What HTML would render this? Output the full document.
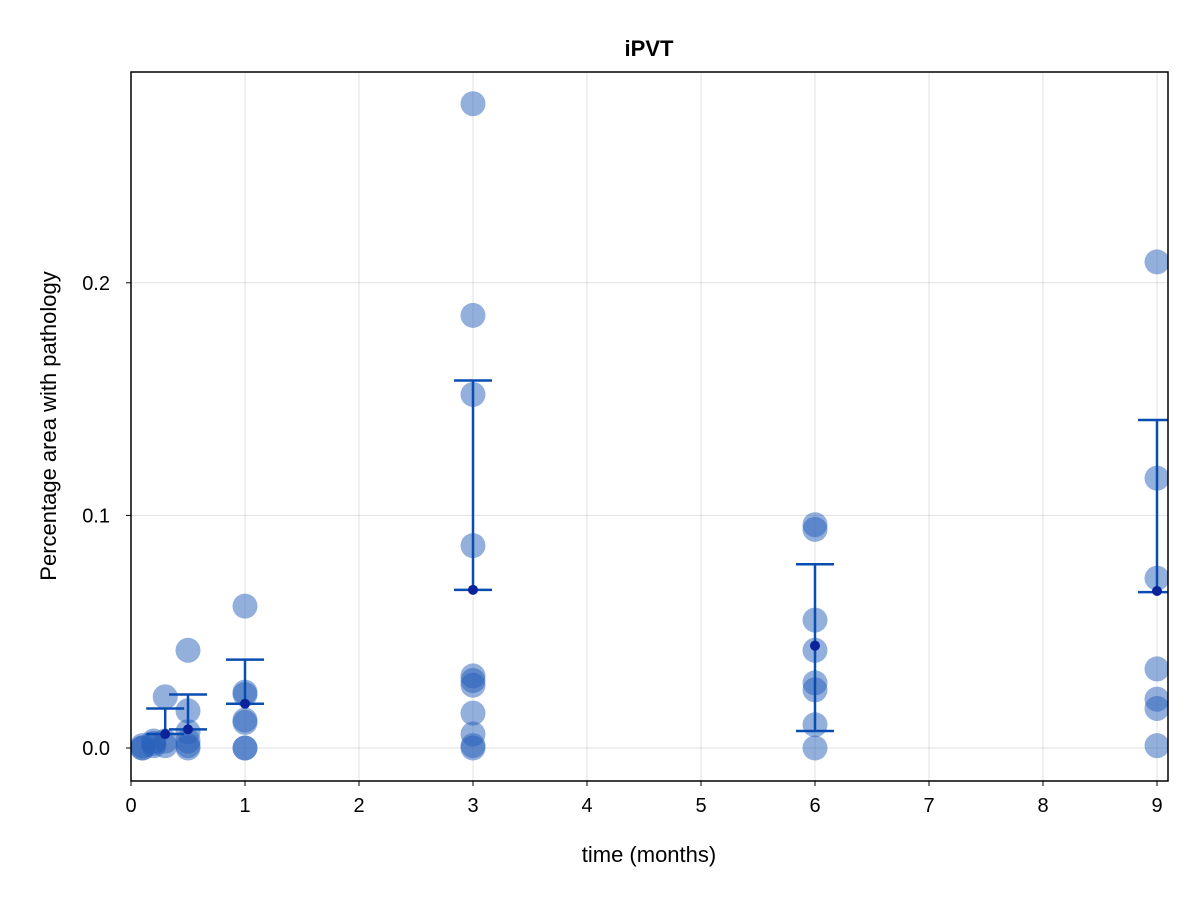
<!DOCTYPE html>
<html><head><meta charset="utf-8"><style>
body{margin:0;background:#fff}
svg text{font-family:"Liberation Sans",sans-serif;fill:#000}
</style></head><body>
<svg id="c" width="1200" height="900" xmlns="http://www.w3.org/2000/svg"><defs><clipPath id="pc"><rect x="131" y="72" width="1037" height="709"/></clipPath></defs></svg>
<script>
const xTicks=[0,1,2,3,4,5,6,7,8,9];
const yTicks=[0,0.1,0.2];
const yTickLabels=["0.0","0.1","0.2"];
const groupX=[0.1,0.2,0.3,0.5,1,3,6,9];
const groupValues=[
[0,0,0.001],
[0.001,0.002,0.003],
[0.022,0.001,0.003],
[0.042,0.016,0.007,0.001,0,0.003],
[0.061,0.024,0.023,0.012,0.011,0,0],
[0.277,0.186,0.152,0.087,0.031,0.029,0.027,0.015,0.006,0.001,0],
[0.096,0.094,0.055,0.042,0.028,0.025,0.010,0],
[0.209,0.116,0.073,0.034,0.021,0.017,0.001]];
const errX=[0.3,0.5,1,3,6,9];
const errMean=[0.006,0.008,0.019,0.068,0.044,0.0675];
const errLow=[0.006,0.008,0.019,0.068,0.0073,0.067];
const errHigh=[0.017,0.023,0.038,0.158,0.079,0.141];

const L=131,R=1168,T=72,B=781;
const sx=v=>L+v*114;
const sy=v=>748-v*2326;
const svg=document.getElementById('c');
const NS='http://www.w3.org/2000/svg';
const g=document.createElementNS(NS,'g');g.setAttribute('clip-path','url(#pc)');


svg.appendChild(g);
function mk(t,a,name,txt,par){const e=document.createElementNS(NS,t);for(const k in a)e.setAttribute(k,a[k]);


if(txt!==undefined)e.textContent=txt;(par||svg).appendChild(e);return e;}
xTicks.forEach(v=>{mk('line',{x1:sx(v),x2:sx(v),y1:T,y2:B,stroke:'#000','stroke-opacity':0.12,'stroke-width':1},'x-grid-line',undefined,g);
mk('line',{x1:sx(v),x2:sx(v),y1:B,y2:B+5,stroke:'#000'},'x-tick');
mk('text',{x:sx(v),y:B+31,'text-anchor':'middle','font-size':20},'x-tick-label',String(v));});
yTicks.forEach((v,i)=>{mk('line',{x1:L,x2:R,y1:sy(v),y2:sy(v),stroke:'#000','stroke-opacity':0.12,'stroke-width':1},'y-grid-line',undefined,g);
mk('line',{x1:L-5,x2:L,y1:sy(v),y2:sy(v),stroke:'#000'},'y-tick');
mk('text',{x:L-21,y:sy(v)+7,'text-anchor':'end','font-size':20},'y-tick-label',yTickLabels[i]);});
groupX.forEach((x,i)=>groupValues[i].forEach(v=>mk('circle',{cx:sx(x),cy:sy(v),r:12.5,fill:'rgba(40,95,185,0.5)'},'data-point',undefined,g)));
errX.forEach((x,i)=>{const c='#0a4db0';
mk('line',{x1:sx(x),x2:sx(x),y1:sy(errLow[i]),y2:sy(errHigh[i]),stroke:c,'stroke-width':2.5},'error-bar',undefined,g);
mk('line',{x1:sx(x)-19,x2:sx(x)+19,y1:sy(errLow[i]),y2:sy(errLow[i]),stroke:c,'stroke-width':2.5},'error-cap-low',undefined,g);
mk('line',{x1:sx(x)-19,x2:sx(x)+19,y1:sy(errHigh[i]),y2:sy(errHigh[i]),stroke:c,'stroke-width':2.5},'error-cap-high',undefined,g);
mk('circle',{cx:sx(x),cy:sy(errMean[i]),r:5,fill:'#0a239a'},'mean-marker',undefined,g);});
mk('rect',{x:L,y:T,width:R-L,height:B-T,fill:'none',stroke:'#000','stroke-width':1.5},'plot-frame');
mk('text',{x:649,y:56,'text-anchor':'middle','font-size':22,'font-weight':'bold'},'chart-title','iPVT');
mk('text',{x:649,y:862,'text-anchor':'middle','font-size':22},'x-axis-title','time (months)');
mk('text',{x:56,y:426,'text-anchor':'middle','font-size':22,transform:'rotate(-90 56 426)'},'y-axis-title','Percentage area with pathology');
</script>
</body></html>
